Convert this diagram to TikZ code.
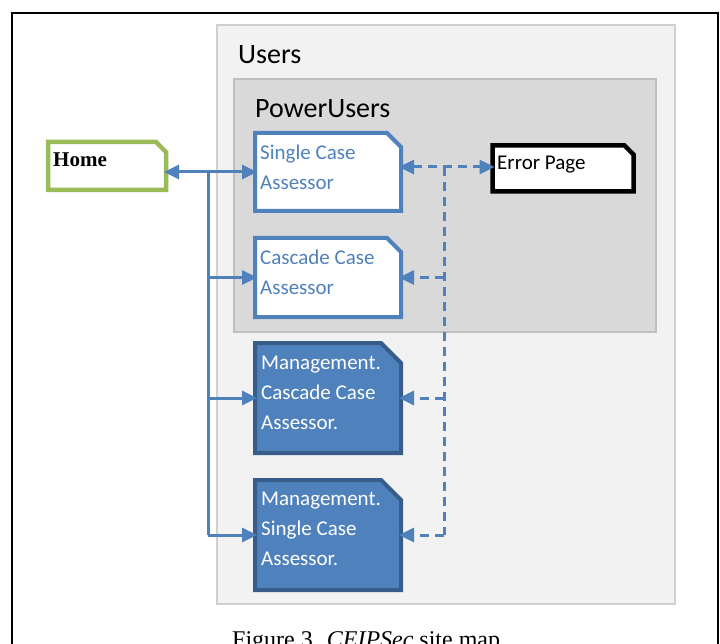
\documentclass[tikz,border=0pt]{standalone}
\usepackage{fontspec}
\setmainfont{Carlito}
\newfontfamily\timesfont{Liberation Serif}
\usepackage{tikz}
\usetikzlibrary{arrows.meta}
\definecolor{boxblue}{HTML}{4F81BD}
\definecolor{boxdark}{HTML}{385D8A}
\definecolor{homegreen}{HTML}{9BBB59}
\definecolor{usersfill}{HTML}{F2F2F2}
\definecolor{usersline}{HTML}{D0D0D0}
\definecolor{powerfill}{HTML}{D9D9D9}
\definecolor{powerline}{HTML}{BFBFBF}

% contour d'une page au coin coupe
\newcommand{\pagecut}[3][]{%
    \draw[line width=4pt, #1] (#2.south west) -- (#2.north west)
        -- ([xshift=-#3]#2.north east) -- ([yshift=-#3]#2.north east)
        -- (#2.south east) -- cycle;}
\newcommand{\pagelines}[1]{\begin{tabular}[t]{@{}l@{}}#1\end{tabular}}

\tikzset{
    group/.style={rectangle, line width=1.5pt, outer sep=0pt, inner sep=0pt},
    page/.style={rectangle, outer sep=0pt, inner sep=0pt},
    boxtext/.style={anchor=base west, inner sep=0pt,
        font=\fontsize{21}{30}\selectfont},
    link/.style={boxblue, line width=3pt},
    dashlink/.style={link, dash pattern=on 9pt off 6pt},
    arrowend/.style={-{Triangle[length=15pt,width=14pt]}, shorten >=-2pt},
    arrowboth/.style={{Triangle[length=15pt,width=14pt]}-{Triangle[length=15pt,width=14pt]},
        shorten >=-2pt, shorten <=-2pt}
}

\begin{document}
\begin{tikzpicture}[x=1pt,y=-1pt]
    \useasboundingbox (0,0) rectangle (720,644);

    % Cadre de la figure
    \draw[line width=2pt] (11.5,660) -- (11.5,13) -- (718,13) -- (718,660);

    % Groupes Users et PowerUsers
    \node[group, fill=usersfill, draw=usersline, minimum width=458pt, minimum height=579pt] (users) at (446,314.5) {};
    \node[group, fill=powerfill, draw=powerline, minimum width=422pt, minimum height=253pt] (power) at (445,205.5) {};
    \node[anchor=base west, inner sep=0pt, font=\fontsize{28}{34}\selectfont] (userslbl) at (238,64) {Users};
    \node[anchor=base west, inner sep=0pt, font=\fontsize{28}{34}\selectfont] (powerlbl) at (255,118) {PowerUsers};

    % Pages
    \node[page, minimum width=118pt, minimum height=48pt] (home) at (107,166) {};
    \node[page, minimum width=146pt, minimum height=78pt] (single) at (328,172) {};
    \node[page, minimum width=146pt, minimum height=79pt] (cascade) at (328,277.5) {};
    \node[page, minimum width=141pt, minimum height=46pt] (error) at (563,168.5) {};
    \node[page, minimum width=146pt, minimum height=110pt] (mcascade) at (328,398) {};
    \node[page, minimum width=146pt, minimum height=110pt] (msingle) at (328,535) {};
    \pagecut[draw=homegreen, line width=4.5pt, fill=white]{home}{10pt}
    \pagecut[draw=boxblue, fill=white]{single}{14pt}
    \pagecut[draw=boxblue, fill=white]{cascade}{14pt}
    \pagecut[draw=black, line width=4.5pt, fill=white]{error}{9pt}
    \pagecut[draw=boxdark, fill=boxblue]{mcascade}{20pt}
    \pagecut[draw=boxdark, fill=boxblue]{msingle}{20pt}

    % Textes des pages
    \node[boxtext, font=\timesfont\bfseries\fontsize{21}{30}\selectfont] (hometxt) at (53,166.5) {Home};
    \node[boxtext, text=boxblue] (singletxt) at (260,159.5) {\pagelines{Single Case\\Assessor}};
    \node[boxtext, text=boxblue] (cascadetxt) at (260,264.5) {\pagelines{Cascade Case\\Assessor}};
    \node[boxtext] (errortxt) at (497,170) {Error Page};
    \node[boxtext, text=white] (mcascadetxt) at (261,369.5) {\pagelines{Management.\\Cascade Case\\Assessor.}};
    \node[boxtext, text=white] (msingletxt) at (261,505.5) {\pagelines{Management.\\Single Case\\Assessor.}};

    % Liens depuis Home
    \coordinate (trunk) at (208,172);
    \draw[link, arrowboth] (home.east |- trunk) -- (single.west |- trunk);
    \draw[link] (trunk) -- (trunk |- msingle.west);
    \foreach \b in {cascade, mcascade, msingle}
        \draw[link, arrowend] (trunk |- \b.west) -- (\b.west);

    % Liens vers Error Page
    \coordinate (spine) at (444,167);
    \draw[dashlink, arrowboth] (single.east |- spine) -- (error.west |- spine);
    \draw[dashlink] (spine) -- (spine |- msingle.east);
    \foreach \b in {cascade, mcascade, msingle}
        \draw[dashlink, arrowend] (spine |- \b.east) -- (\b.east);

    % Legende
    \node[anchor=base west, inner sep=0pt, font=\timesfont\fontsize{24}{28}\selectfont] (caption) at (232,647) {Figure 3. \textit{CEIPSec} site map};
\end{tikzpicture}
\end{document}
